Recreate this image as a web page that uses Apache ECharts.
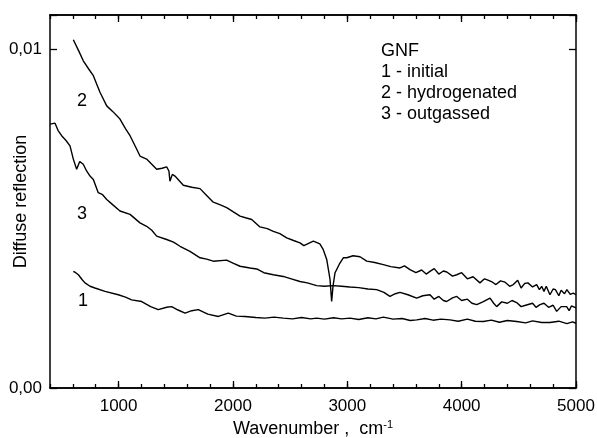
<!DOCTYPE html>
<html>
<head>
<meta charset="utf-8">
<script src="https://cdn.jsdelivr.net/npm/echarts@6/dist/echarts.min.js"></script>
<style>
  html, body { margin: 0; padding: 0; background: #fff; }
  #main { width: 597px; height: 438px; }
</style>
</head>
<body>
<div id="main"></div>
<script>
// values (wavenumber cm-1, diffuse reflection)
const majorTicks = [1000, 2000, 3000, 4000, 5000];
const yLabels = { 0: '0,00', 0.01: '0,01' };

// 1 - initial
const wave1 = [604, 625, 648, 680, 706, 750, 793, 881, 997, 1060, 1114, 1202, 1280, 1347, 1420, 1464, 1520, 1581, 1640, 1697, 1780, 1872, 1959, 2030, 2105, 2200, 2280, 2360, 2440, 2520, 2600, 2680, 2732, 2800, 2880, 2950, 3023, 3100, 3180, 3250, 3315, 3400, 3480, 3550, 3607, 3680, 3750, 3820, 3898, 3970, 4050, 4120, 4190, 4260, 4330, 4400, 4481, 4560, 4620, 4700, 4772, 4850, 4920, 4970, 5000];
const refl1 = [0.00344, 0.00340, 0.00334, 0.00320, 0.00310, 0.00300, 0.00295, 0.00285, 0.00275, 0.00268, 0.00260, 0.00255, 0.00240, 0.00231, 0.00238, 0.00240, 0.00230, 0.00221, 0.00228, 0.00231, 0.00218, 0.00211, 0.00221, 0.00212, 0.00211, 0.00208, 0.00206, 0.00209, 0.00206, 0.00204, 0.00208, 0.00204, 0.00206, 0.00203, 0.00207, 0.00204, 0.00206, 0.00202, 0.00207, 0.00204, 0.00209, 0.00203, 0.00205, 0.00199, 0.00201, 0.00205, 0.00200, 0.00203, 0.00201, 0.00197, 0.00203, 0.00197, 0.00196, 0.00200, 0.00194, 0.00199, 0.00196, 0.00192, 0.00198, 0.00193, 0.00193, 0.00197, 0.00190, 0.00195, 0.00191];

// 2 - hydrogenated
const wave2 = [604, 650, 691, 740, 779, 837, 896, 950, 1012, 1060, 1100, 1150, 1187, 1245, 1290, 1333, 1380, 1420, 1440, 1449, 1470, 1493, 1566, 1640, 1712, 1770, 1828, 1890, 1945, 2000, 2062, 2110, 2164, 2236, 2300, 2353, 2410, 2470, 2530, 2586, 2620, 2703, 2760, 2790, 2820, 2849, 2863, 2875, 2892, 2930, 2965, 2995, 3050, 3111, 3170, 3240, 3315, 3380, 3461, 3500, 3548, 3600, 3650, 3690, 3723, 3760, 3800, 3840, 3870, 3920, 3957, 4000, 4050, 4100, 4160, 4200, 4230, 4270, 4300, 4340, 4380, 4420, 4452, 4490, 4520, 4550, 4580, 4620, 4656, 4680, 4700, 4720, 4740, 4772, 4800, 4820, 4850, 4870, 4900, 4920, 4950, 4976, 5000];
const refl2 = [0.01027, 0.00995, 0.00965, 0.00940, 0.00921, 0.00872, 0.00832, 0.00815, 0.00793, 0.00765, 0.00744, 0.00710, 0.00684, 0.00675, 0.00660, 0.00645, 0.00648, 0.00652, 0.00640, 0.00610, 0.00630, 0.00625, 0.00598, 0.00592, 0.00588, 0.00568, 0.00548, 0.00540, 0.00532, 0.00520, 0.00507, 0.00502, 0.00497, 0.00475, 0.00470, 0.00462, 0.00455, 0.00443, 0.00435, 0.00428, 0.00420, 0.00433, 0.00425, 0.00408, 0.00379, 0.00320, 0.00255, 0.00300, 0.00339, 0.00365, 0.00384, 0.00384, 0.00390, 0.00387, 0.00374, 0.00370, 0.00364, 0.00358, 0.00354, 0.00360, 0.00349, 0.00340, 0.00348, 0.00336, 0.00344, 0.00352, 0.00336, 0.00345, 0.00342, 0.00330, 0.00334, 0.00340, 0.00322, 0.00328, 0.00310, 0.00322, 0.00318, 0.00312, 0.00305, 0.00316, 0.00312, 0.00300, 0.00305, 0.00318, 0.00295, 0.00308, 0.00310, 0.00298, 0.00305, 0.00290, 0.00300, 0.00285, 0.00300, 0.00275, 0.00292, 0.00290, 0.00272, 0.00288, 0.00278, 0.00290, 0.00276, 0.00280, 0.00275];

// 3 - outgassed
const wave3 = [400, 444, 470, 502, 540, 575, 604, 619, 633, 660, 691, 720, 750, 779, 822, 860, 896, 950, 1012, 1100, 1187, 1245, 1290, 1333, 1420, 1480, 1537, 1624, 1712, 1770, 1828, 1945, 2000, 2062, 2149, 2208, 2270, 2353, 2440, 2510, 2586, 2650, 2732, 2800, 2877, 2950, 3023, 3100, 3180, 3257, 3320, 3373, 3420, 3461, 3530, 3607, 3660, 3723, 3760, 3800, 3840, 3869, 3920, 3957, 4000, 4050, 4090, 4132, 4190, 4248, 4280, 4306, 4350, 4400, 4440, 4481, 4520, 4560, 4620, 4650, 4685, 4720, 4760, 4800, 4831, 4870, 4918, 4940, 4960, 5000];
const refl3 = [0.00778, 0.00781, 0.00760, 0.00744, 0.00730, 0.00714, 0.00675, 0.00670, 0.00645, 0.00668, 0.00660, 0.00640, 0.00625, 0.00615, 0.00576, 0.00570, 0.00556, 0.00540, 0.00522, 0.00512, 0.00487, 0.00477, 0.00465, 0.00448, 0.00438, 0.00430, 0.00418, 0.00403, 0.00384, 0.00380, 0.00374, 0.00377, 0.00368, 0.00359, 0.00354, 0.00351, 0.00340, 0.00334, 0.00329, 0.00322, 0.00314, 0.00310, 0.00302, 0.00300, 0.00302, 0.00300, 0.00298, 0.00296, 0.00292, 0.00290, 0.00282, 0.00270, 0.00278, 0.00282, 0.00275, 0.00265, 0.00272, 0.00275, 0.00262, 0.00270, 0.00258, 0.00255, 0.00266, 0.00270, 0.00258, 0.00262, 0.00250, 0.00246, 0.00255, 0.00265, 0.00250, 0.00240, 0.00254, 0.00250, 0.00258, 0.00252, 0.00240, 0.00244, 0.00250, 0.00238, 0.00246, 0.00250, 0.00238, 0.00244, 0.00226, 0.00240, 0.00240, 0.00228, 0.00242, 0.00236];

const font = 'Liberation Sans, Arial, sans-serif';
const zip = (xs, ys) => xs.map((x, i) => [x, ys[i]]);

function xAx(pos, major, withLabels) {
  const ax = {
    type: 'value', position: pos, min: 400, max: 5000,
    axisLine: { show: true, onZero: false, lineStyle: { color: '#000', width: 1.5 } },
    splitLine: { show: false },
    axisTick: { show: true, inside: true, length: major ? 7 : 4, lineStyle: { color: '#000', width: 1.3 } },
    axisLabel: { show: false }
  };
  if (major) {
    ax.axisTick.customValues = majorTicks;
    ax.axisLabel = {
      show: withLabels, customValues: majorTicks, color: '#000',
      fontSize: 17, fontFamily: font, margin: 10,
      formatter: v => String(v)
    };
  } else {
    ax.interval = 200;
  }
  return ax;
}

const bottomAxis = xAx('bottom', true, true);
bottomAxis.name = 'Wavenumber ,  cm{sup|-1}';
bottomAxis.nameLocation = 'middle';
bottomAxis.nameGap = 31;
bottomAxis.nameMoveOverlap = false;
bottomAxis.nameTextStyle = {
  color: '#000', fontSize: 18, fontFamily: font,
  rich: { sup: { fontSize: 11, fontFamily: font, color: '#000', verticalAlign: 'top', padding: [0, 0, 10, 0] } }
};

function yAx(pos, withLabels) {
  return {
    type: 'value', position: pos, min: 0, max: 0.011, interval: 0.01,
    axisLine: { show: true, onZero: false, lineStyle: { color: '#000', width: 1.5 } },
    splitLine: { show: false },
    axisTick: { show: true, inside: true, length: 7, lineStyle: { color: '#000', width: 1.3 } },
    axisLabel: {
      show: withLabels, color: '#000', fontSize: 17, fontFamily: font, margin: 8,
      formatter: v => (Math.abs(v) < 1e-9 ? yLabels[0] : Math.abs(v - 0.01) < 1e-9 ? yLabels[0.01] : '')
    }
  };
}

const leftAxis = yAx('left', true);
leftAxis.name = 'Diffuse reflection';
leftAxis.nameLocation = 'middle';
leftAxis.nameGap = 20;
leftAxis.nameMoveOverlap = false;
leftAxis.nameTextStyle = { color: '#000', fontSize: 18, fontFamily: font };

const lineStyle = { color: '#000', width: 1.4 };
const mkSeries = (name, xs, ys) => ({
  name, type: 'line', xAxisIndex: 0, yAxisIndex: 0,
  showSymbol: false, symbol: 'none', lineStyle, data: zip(xs, ys)
});

const txt = (x, y, s, size) => ({
  type: 'text', left: x, top: y,
  style: { text: s, fill: '#000', font: size + 'px ' + font }
});

const chart = echarts.init(document.getElementById('main'));
chart.setOption({
  animation: false,
  backgroundColor: '#fff',
  grid: { left: 50, right: 21, top: 15, bottom: 50, containLabel: false, outerBoundsMode: 'none' },
  xAxis: [bottomAxis, xAx('bottom', false, false), xAx('top', true, false), xAx('top', false, false)],
  yAxis: [leftAxis, yAx('right', false)],
  series: [
    mkSeries('1 - initial', wave1, refl1),
    mkSeries('2 - hydrogenated', wave2, refl2),
    mkSeries('3 - outgassed', wave3, refl3)
  ],
  graphic: [
    txt(77, 92, '2', 18),
    txt(77, 205, '3', 18),
    txt(78, 292, '1', 18),
    txt(381, 42, 'GNF', 18),
    txt(381, 63, '1 - initial', 18),
    txt(381, 84, '2 - hydrogenated', 18),
    txt(381, 105, '3 - outgassed', 18)
  ]
});
</script>
</body>
</html>
